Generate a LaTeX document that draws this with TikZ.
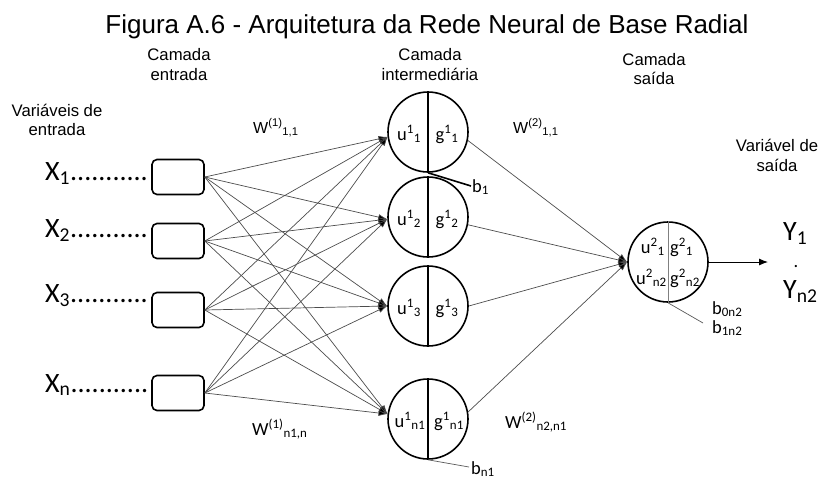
\documentclass[tikz,border=0pt]{standalone}
\usepackage{fontspec}
\setmainfont{Liberation Sans}
\newfontfamily\calib{Carlito}
\usetikzlibrary{arrows.meta}
\begin{document}
\begin{tikzpicture}[x=1pt,y=-1pt,
  ttl/.style={font=\fontsize{26}{30}\selectfont, anchor=base, inner sep=0},
  hdr/.style={font=\fontsize{16.7}{20}\selectfont, anchor=base, inner sep=0},
  wlab/.style={font=\fontsize{16}{19}\selectfont, anchor=base west, inner sep=0},
  lab/.style={font=\calib\fontsize{18.5}{22}\selectfont, inner sep=0},
  biglab/.style={font=\calib\fontsize{28}{32}\selectfont, anchor=base west, inner sep=0},
  inbox/.style={draw, line width=1.6pt, rounded corners=5pt, minimum width=52pt, minimum height=35pt, inner sep=0},
  neuron/.style={draw, circle, line width=1.6pt, minimum size=80pt, inner sep=0},
  wire/.style={draw=black!70, line width=0.7pt, -{Latex[length=9pt,width=6pt,fill=black]}},
  thinline/.style={draw=black!65, line width=0.7pt}]
\useasboundingbox (0,0) rectangle (819,480);

% title and layer headings
\node[ttl] (title) at (427,33) {Figura A.6 - Arquitetura da Rede Neural de Base Radial};
\node[hdr] (hin1) at (179,60) {Camada};
\node[hdr] (hin2) at (179,80) {entrada};
\node[hdr] (hmid1) at (430,60) {Camada};
\node[hdr] (hmid2) at (430,80) {intermediária};
\node[hdr] (hout1) at (654,65) {Camada};
\node[hdr] (hout2) at (654,84) {saída};
\node[hdr] (vin1) at (57,116) {Variáveis de};
\node[hdr] (vin2) at (57,135) {entrada};
\node[hdr] (vout1) at (777,151) {Variável de};
\node[hdr] (vout2) at (777,171) {saída};

% input variables and input boxes
\node[biglab] (x1) at (45,180) {X\textsubscript{1}...........};
\node[biglab] (x2) at (45,237) {X\textsubscript{2}...........};
\node[biglab] (x3) at (45,302) {X\textsubscript{3}...........};
\node[biglab] (x4) at (45,392) {X\textsubscript{n}...........};
\node[inbox] (in1) at (178,177) {};
\node[inbox] (in2) at (178,241) {};
\node[inbox] (in3) at (178,310) {};
\node[inbox] (in4) at (178,393) {};

% hidden layer neurons
\node[neuron] (h1) at (428,132) {};
\node[neuron] (h2) at (428,217) {};
\node[neuron] (h3) at (428,306) {};
\node[neuron] (h4) at (428,419) {};
\foreach \k in {1,...,4}
  \draw[line width=1.4pt] (h\k.north) -- (h\k.south);
\node[lab, anchor=base] (u1) at ([shift={(-19,8)}]h1.center) {u\textsuperscript{1}\textsubscript{1}};
\node[lab, anchor=base] (g1) at ([shift={(19,8)}]h1.center) {g\textsuperscript{1}\textsubscript{1}};
\node[lab, anchor=base] (u2) at ([shift={(-19,8)}]h2.center) {u\textsuperscript{1}\textsubscript{2}};
\node[lab, anchor=base] (g2) at ([shift={(19,8)}]h2.center) {g\textsuperscript{1}\textsubscript{2}};
\node[lab, anchor=base] (u3) at ([shift={(-19,8)}]h3.center) {u\textsuperscript{1}\textsubscript{3}};
\node[lab, anchor=base] (g3) at ([shift={(19,8)}]h3.center) {g\textsuperscript{1}\textsubscript{3}};
\node[lab, anchor=base] (u4) at ([shift={(-18,8)}]h4.center) {u\textsuperscript{1}\textsubscript{n1}};
\node[lab, anchor=base] (g4) at ([shift={(21,8)}]h4.center) {g\textsuperscript{1}\textsubscript{n1}};

% output neuron
\node[neuron] (o) at (668,262) {};
\draw[draw=black!50, line width=0.9pt] (o.north) -- (o.south);
\node[lab, anchor=base east] (uo1) at ([shift={(-3,-9)}]o.center) {u\textsuperscript{2}\textsubscript{1}};
\node[lab, anchor=base west] (go1) at ([shift={(2,-9)}]o.center) {g\textsuperscript{2}\textsubscript{1}};
\node[lab, anchor=base east] (uo2) at ([shift={(-1,22)}]o.center) {u\textsuperscript{2}\textsubscript{n2}};
\node[lab, anchor=base west] (go2) at ([shift={(2,22)}]o.center) {g\textsuperscript{2}\textsubscript{n2}};

% output variables
\node[biglab] (y1) at (783,240) {Y\textsubscript{1}};
\node[lab, anchor=base] (ydot) at (796,267) {.};
\node[biglab] (y2) at (783,298) {Y\textsubscript{n2}};
\coordinate (ytip) at (768,262);
\draw[line width=0.9pt, -{Latex[length=9pt,width=7pt]}] (o.east) -- (ytip);

% weights
\node[wlab] (w11) at (253,133) {W\textsuperscript{(1)}\textsubscript{1,1}};
\node[wlab] (w21) at (513,133) {W\textsuperscript{(2)}\textsubscript{1,1}};
\node[lab, anchor=base west] (w1n) at (252,435) {W\textsuperscript{(1)}\textsubscript{n1,n}};
\node[lab, anchor=base west] (w2n) at (505,428) {W\textsuperscript{(2)}\textsubscript{n2,n1}};

% biases
\node[lab, anchor=base west] (b1) at (472,192) {b\textsubscript{1}};
\node[lab, anchor=base west] (bn1) at (471,474) {b\textsubscript{n1}};
\node[lab, anchor=base west] (b0n2) at (712,314) {b\textsubscript{0n2}};
\node[lab, anchor=base west] (b1n2) at (712,333) {b\textsubscript{1n2}};
\coordinate (b1end) at (471,186);
\coordinate (bn1end) at (469,467);
\coordinate (bo) at (703,323);
\draw[line width=1.6pt] (h1.south) -- (b1end);
\draw[thinline] (h4.south) -- (bn1end);
\draw[thinline] (o.south) -- (bo);

% input -> hidden connections
\foreach \i in {1,...,4}
  \foreach \j/\a in {1/187,2/183,3/180,4/173}
    \draw[wire] (in\i.east) -- (h\j.\a);

% hidden -> output connections
\foreach \j/\a in {1/348,2/349,3/0,4/10}
  \draw[wire] (h\j.\a) -- (o.west);
\end{tikzpicture}
\end{document}
